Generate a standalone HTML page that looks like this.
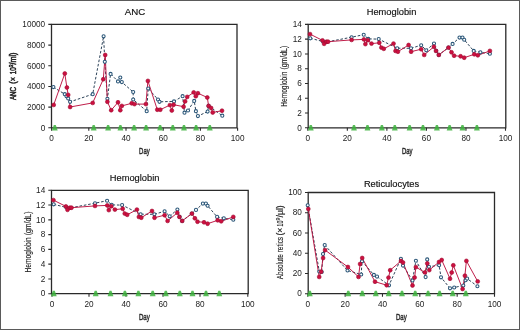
<!DOCTYPE html>
<html><head><meta charset="utf-8"><style>
html,body{margin:0;padding:0;background:#fff;}
body{width:520px;height:330px;overflow:hidden;}
svg{display:block;will-change:transform;filter:blur(0.35px);}
.tk{font-family:"Liberation Sans",sans-serif;font-size:8.6px;fill:#222;}
.tt{font-family:"Liberation Sans",sans-serif;font-size:9.3px;fill:#111;stroke:#111;stroke-width:0.15px;}
.at{font-family:"Liberation Sans",sans-serif;font-weight:normal;fill:#222;stroke:#222;stroke-width:0.22px;}
</style></head><body>
<svg width="520" height="330" viewBox="0 0 520 330">
<rect x="0" y="0" width="520" height="330" fill="#fff"/>
<path d="M51.5 24.4H237V127.8H51.5Z" fill="none" stroke="#2a2a2a" stroke-width="1.3"/>
<path d="M48.3 127.8H51.5M48.3 107.12H51.5M48.3 86.44H51.5M48.3 65.76H51.5M48.3 45.08H51.5M48.3 24.4H51.5M51.6 127.8V130.8M88.8 127.8V130.8M126 127.8V130.8M163.2 127.8V130.8M200.4 127.8V130.8M237.6 127.8V130.8" stroke="#2a2a2a" stroke-width="1.1" fill="none"/>
<text x="45.2" y="130.55" class="tk" text-anchor="end" textLength="4.57" lengthAdjust="spacingAndGlyphs">0</text>
<text x="45.2" y="109.87" class="tk" text-anchor="end" textLength="18.27" lengthAdjust="spacingAndGlyphs">2000</text>
<text x="45.2" y="89.19" class="tk" text-anchor="end" textLength="18.27" lengthAdjust="spacingAndGlyphs">4000</text>
<text x="45.2" y="68.51" class="tk" text-anchor="end" textLength="18.27" lengthAdjust="spacingAndGlyphs">6000</text>
<text x="45.2" y="47.83" class="tk" text-anchor="end" textLength="18.27" lengthAdjust="spacingAndGlyphs">8000</text>
<text x="45.2" y="27.15" class="tk" text-anchor="end" textLength="22.83" lengthAdjust="spacingAndGlyphs">10000</text>
<text x="51.6" y="141.2" class="tk" text-anchor="middle" textLength="4.57" lengthAdjust="spacingAndGlyphs">0</text>
<text x="88.8" y="141.2" class="tk" text-anchor="middle" textLength="9.13" lengthAdjust="spacingAndGlyphs">20</text>
<text x="126" y="141.2" class="tk" text-anchor="middle" textLength="9.13" lengthAdjust="spacingAndGlyphs">40</text>
<text x="163.2" y="141.2" class="tk" text-anchor="middle" textLength="9.13" lengthAdjust="spacingAndGlyphs">60</text>
<text x="200.4" y="141.2" class="tk" text-anchor="middle" textLength="9.13" lengthAdjust="spacingAndGlyphs">80</text>
<text x="237.6" y="141.2" class="tk" text-anchor="middle" textLength="13.7" lengthAdjust="spacingAndGlyphs">100</text>
<path d="M51.9 130.4L53.8 124.9L55.8 124.9L57.7 130.4Z" fill="#3db33d" fill-opacity="0.85"/>
<path d="M90.8 130.4L92.7 124.9L94.7 124.9L96.6 130.4Z" fill="#3db33d" fill-opacity="0.85"/>
<path d="M105.2 130.4L107.1 124.9L109.1 124.9L111 130.4Z" fill="#3db33d" fill-opacity="0.85"/>
<path d="M117.5 130.4L119.4 124.9L121.4 124.9L123.3 130.4Z" fill="#3db33d" fill-opacity="0.85"/>
<path d="M131.2 130.4L133.1 124.9L135.1 124.9L137 130.4Z" fill="#3db33d" fill-opacity="0.85"/>
<path d="M143.2 130.4L145.1 124.9L147.1 124.9L149 130.4Z" fill="#3db33d" fill-opacity="0.85"/>
<path d="M157.2 130.4L159.1 124.9L161.1 124.9L163 130.4Z" fill="#3db33d" fill-opacity="0.85"/>
<path d="M169.9 130.4L171.8 124.9L173.8 124.9L175.7 130.4Z" fill="#3db33d" fill-opacity="0.85"/>
<path d="M181.1 130.4L183 124.9L185 124.9L186.9 130.4Z" fill="#3db33d" fill-opacity="0.85"/>
<path d="M193.2 130.4L195.1 124.9L197.1 124.9L199 130.4Z" fill="#3db33d" fill-opacity="0.85"/>
<path d="M206.9 130.4L208.8 124.9L210.8 124.9L212.7 130.4Z" fill="#3db33d" fill-opacity="0.85"/>
<polyline points="53.4,87.1 64.8,94.2 66.5,96.3 68.2,98.5 70.1,101.8 92.7,94.2 103.6,36.3 104.8,61.8 107.4,98.8 110.6,73.9 118,81.4 120.3,77.6 121.8,82.1 133.2,92 133.2,99.5 146.7,111.2 148.2,88.5 158,99.5 159.5,101.8 174,101.4 182.6,96.2 184.5,112.7 188,110.5 194.2,100.9 195.9,111.2 197.9,116.1 207.6,111.6 208.6,105.9 222.3,115.7" fill="none" stroke="#2c4258" stroke-width="1" stroke-dasharray="2.6 1.8"/>
<polyline points="53.7,104.9 64.8,73.5 66.9,87.5 68.2,94.9 70.1,107 92.7,102.9 103.3,79.2 105.2,55 107.4,101.8 111.2,110.2 118,102.3 120.3,110.2 121.8,105.9 131.7,103.3 134.5,104.1 145.9,104.1 147.9,80.9 157.3,109.7 160.3,109.7 169.9,105.1 171.8,110.5 173.6,104.7 183.6,106.7 185.1,101.4 187.2,96.9 193.7,92.4 195.8,96.2 197.9,93.2 207.3,97.5 208.6,105.9 211.1,108 212.7,112.5 222,110.7" fill="none" stroke="#bc1240" stroke-width="0.95"/>
<circle cx="53.4" cy="87.1" r="1.55" fill="#fff" stroke="#2a5678" stroke-width="1.05"/>
<circle cx="64.8" cy="94.2" r="1.55" fill="#fff" stroke="#2a5678" stroke-width="1.05"/>
<circle cx="66.5" cy="96.3" r="1.55" fill="#fff" stroke="#2a5678" stroke-width="1.05"/>
<circle cx="68.2" cy="98.5" r="1.55" fill="#fff" stroke="#2a5678" stroke-width="1.05"/>
<circle cx="70.1" cy="101.8" r="1.55" fill="#fff" stroke="#2a5678" stroke-width="1.05"/>
<circle cx="92.7" cy="94.2" r="1.55" fill="#fff" stroke="#2a5678" stroke-width="1.05"/>
<circle cx="103.6" cy="36.3" r="1.55" fill="#fff" stroke="#2a5678" stroke-width="1.05"/>
<circle cx="104.8" cy="61.8" r="1.55" fill="#fff" stroke="#2a5678" stroke-width="1.05"/>
<circle cx="107.4" cy="98.8" r="1.55" fill="#fff" stroke="#2a5678" stroke-width="1.05"/>
<circle cx="110.6" cy="73.9" r="1.55" fill="#fff" stroke="#2a5678" stroke-width="1.05"/>
<circle cx="118" cy="81.4" r="1.55" fill="#fff" stroke="#2a5678" stroke-width="1.05"/>
<circle cx="120.3" cy="77.6" r="1.55" fill="#fff" stroke="#2a5678" stroke-width="1.05"/>
<circle cx="121.8" cy="82.1" r="1.55" fill="#fff" stroke="#2a5678" stroke-width="1.05"/>
<circle cx="133.2" cy="92" r="1.55" fill="#fff" stroke="#2a5678" stroke-width="1.05"/>
<circle cx="133.2" cy="99.5" r="1.55" fill="#fff" stroke="#2a5678" stroke-width="1.05"/>
<circle cx="146.7" cy="111.2" r="1.55" fill="#fff" stroke="#2a5678" stroke-width="1.05"/>
<circle cx="148.2" cy="88.5" r="1.55" fill="#fff" stroke="#2a5678" stroke-width="1.05"/>
<circle cx="158" cy="99.5" r="1.55" fill="#fff" stroke="#2a5678" stroke-width="1.05"/>
<circle cx="159.5" cy="101.8" r="1.55" fill="#fff" stroke="#2a5678" stroke-width="1.05"/>
<circle cx="174" cy="101.4" r="1.55" fill="#fff" stroke="#2a5678" stroke-width="1.05"/>
<circle cx="182.6" cy="96.2" r="1.55" fill="#fff" stroke="#2a5678" stroke-width="1.05"/>
<circle cx="184.5" cy="112.7" r="1.55" fill="#fff" stroke="#2a5678" stroke-width="1.05"/>
<circle cx="188" cy="110.5" r="1.55" fill="#fff" stroke="#2a5678" stroke-width="1.05"/>
<circle cx="194.2" cy="100.9" r="1.55" fill="#fff" stroke="#2a5678" stroke-width="1.05"/>
<circle cx="195.9" cy="111.2" r="1.55" fill="#fff" stroke="#2a5678" stroke-width="1.05"/>
<circle cx="197.9" cy="116.1" r="1.55" fill="#fff" stroke="#2a5678" stroke-width="1.05"/>
<circle cx="207.6" cy="111.6" r="1.55" fill="#fff" stroke="#2a5678" stroke-width="1.05"/>
<circle cx="208.6" cy="105.9" r="1.55" fill="#fff" stroke="#2a5678" stroke-width="1.05"/>
<circle cx="222.3" cy="115.7" r="1.55" fill="#fff" stroke="#2a5678" stroke-width="1.05"/>
<circle cx="53.7" cy="104.9" r="1.95" fill="#cc1040" stroke="#a00c30" stroke-width="0.6"/>
<circle cx="64.8" cy="73.5" r="1.95" fill="#cc1040" stroke="#a00c30" stroke-width="0.6"/>
<circle cx="66.9" cy="87.5" r="1.95" fill="#cc1040" stroke="#a00c30" stroke-width="0.6"/>
<circle cx="68.2" cy="94.9" r="1.95" fill="#cc1040" stroke="#a00c30" stroke-width="0.6"/>
<circle cx="70.1" cy="107" r="1.95" fill="#cc1040" stroke="#a00c30" stroke-width="0.6"/>
<circle cx="92.7" cy="102.9" r="1.95" fill="#cc1040" stroke="#a00c30" stroke-width="0.6"/>
<circle cx="103.3" cy="79.2" r="1.95" fill="#cc1040" stroke="#a00c30" stroke-width="0.6"/>
<circle cx="105.2" cy="55" r="1.95" fill="#cc1040" stroke="#a00c30" stroke-width="0.6"/>
<circle cx="107.4" cy="101.8" r="1.95" fill="#cc1040" stroke="#a00c30" stroke-width="0.6"/>
<circle cx="111.2" cy="110.2" r="1.95" fill="#cc1040" stroke="#a00c30" stroke-width="0.6"/>
<circle cx="118" cy="102.3" r="1.95" fill="#cc1040" stroke="#a00c30" stroke-width="0.6"/>
<circle cx="120.3" cy="110.2" r="1.95" fill="#cc1040" stroke="#a00c30" stroke-width="0.6"/>
<circle cx="121.8" cy="105.9" r="1.95" fill="#cc1040" stroke="#a00c30" stroke-width="0.6"/>
<circle cx="131.7" cy="103.3" r="1.95" fill="#cc1040" stroke="#a00c30" stroke-width="0.6"/>
<circle cx="134.5" cy="104.1" r="1.95" fill="#cc1040" stroke="#a00c30" stroke-width="0.6"/>
<circle cx="145.9" cy="104.1" r="1.95" fill="#cc1040" stroke="#a00c30" stroke-width="0.6"/>
<circle cx="147.9" cy="80.9" r="1.95" fill="#cc1040" stroke="#a00c30" stroke-width="0.6"/>
<circle cx="157.3" cy="109.7" r="1.95" fill="#cc1040" stroke="#a00c30" stroke-width="0.6"/>
<circle cx="160.3" cy="109.7" r="1.95" fill="#cc1040" stroke="#a00c30" stroke-width="0.6"/>
<circle cx="169.9" cy="105.1" r="1.95" fill="#cc1040" stroke="#a00c30" stroke-width="0.6"/>
<circle cx="171.8" cy="110.5" r="1.95" fill="#cc1040" stroke="#a00c30" stroke-width="0.6"/>
<circle cx="173.6" cy="104.7" r="1.95" fill="#cc1040" stroke="#a00c30" stroke-width="0.6"/>
<circle cx="183.6" cy="106.7" r="1.95" fill="#cc1040" stroke="#a00c30" stroke-width="0.6"/>
<circle cx="185.1" cy="101.4" r="1.95" fill="#cc1040" stroke="#a00c30" stroke-width="0.6"/>
<circle cx="187.2" cy="96.9" r="1.95" fill="#cc1040" stroke="#a00c30" stroke-width="0.6"/>
<circle cx="193.7" cy="92.4" r="1.95" fill="#cc1040" stroke="#a00c30" stroke-width="0.6"/>
<circle cx="195.8" cy="96.2" r="1.95" fill="#cc1040" stroke="#a00c30" stroke-width="0.6"/>
<circle cx="197.9" cy="93.2" r="1.95" fill="#cc1040" stroke="#a00c30" stroke-width="0.6"/>
<circle cx="207.3" cy="97.5" r="1.95" fill="#cc1040" stroke="#a00c30" stroke-width="0.6"/>
<circle cx="208.6" cy="105.9" r="1.95" fill="#cc1040" stroke="#a00c30" stroke-width="0.6"/>
<circle cx="211.1" cy="108" r="1.95" fill="#cc1040" stroke="#a00c30" stroke-width="0.6"/>
<circle cx="212.7" cy="112.5" r="1.95" fill="#cc1040" stroke="#a00c30" stroke-width="0.6"/>
<circle cx="222" cy="110.7" r="1.95" fill="#cc1040" stroke="#a00c30" stroke-width="0.6"/>
<text x="124.8" y="14.7" class="tt" style="font-size:9.7px">ANC</text>
<text transform="translate(16.3,100.1) rotate(-90)" x="0" y="0" class="at" style="font-size:8.4px;stroke-width:0.5px" textLength="13.2" lengthAdjust="spacingAndGlyphs">ANC</text>
<text transform="translate(16.3,83.8) rotate(-90)" x="0" y="0" class="at" style="font-size:8.4px;stroke-width:0.5px" textLength="6.8" lengthAdjust="spacingAndGlyphs">(×</text>
<text transform="translate(16.3,74.2) rotate(-90)" x="0" y="0" class="at" style="font-size:8.4px;stroke-width:0.5px" textLength="7.1" lengthAdjust="spacingAndGlyphs">10</text>
<text transform="translate(12.7,67.2) rotate(-90)" x="0" y="0" class="at" style="font-size:5.6px;stroke-width:0.5px" textLength="2.8" lengthAdjust="spacingAndGlyphs">3</text>
<text transform="translate(16.3,64.6) rotate(-90)" x="0" y="0" class="at" style="font-size:8.4px;stroke-width:0.5px" textLength="12" lengthAdjust="spacingAndGlyphs">/ml)</text>
<text x="139.1" y="154.4" class="at" style="font-size:9.8px;stroke-width:0.4px" textLength="10.6" lengthAdjust="spacingAndGlyphs">Day</text>
<path d="M308.2 24.4H505.8V127.8H308.2Z" fill="none" stroke="#2a2a2a" stroke-width="1.3"/>
<path d="M305 127.8H308.2M305 113.03H308.2M305 98.26H308.2M305 83.49H308.2M305 68.71H308.2M305 53.94H308.2M305 39.17H308.2M305 24.4H308.2M307.8 127.8V130.8M347.34 127.8V130.8M386.88 127.8V130.8M426.42 127.8V130.8M465.96 127.8V130.8M505.5 127.8V130.8" stroke="#2a2a2a" stroke-width="1.1" fill="none"/>
<text x="301.9" y="130.55" class="tk" text-anchor="end" textLength="4.57" lengthAdjust="spacingAndGlyphs">0</text>
<text x="301.9" y="115.78" class="tk" text-anchor="end" textLength="4.57" lengthAdjust="spacingAndGlyphs">2</text>
<text x="301.9" y="101.01" class="tk" text-anchor="end" textLength="4.57" lengthAdjust="spacingAndGlyphs">4</text>
<text x="301.9" y="86.24" class="tk" text-anchor="end" textLength="4.57" lengthAdjust="spacingAndGlyphs">6</text>
<text x="301.9" y="71.46" class="tk" text-anchor="end" textLength="4.57" lengthAdjust="spacingAndGlyphs">8</text>
<text x="301.9" y="56.69" class="tk" text-anchor="end" textLength="9.13" lengthAdjust="spacingAndGlyphs">10</text>
<text x="301.9" y="41.92" class="tk" text-anchor="end" textLength="9.13" lengthAdjust="spacingAndGlyphs">12</text>
<text x="301.9" y="27.15" class="tk" text-anchor="end" textLength="9.13" lengthAdjust="spacingAndGlyphs">14</text>
<text x="307.8" y="141.2" class="tk" text-anchor="middle" textLength="4.57" lengthAdjust="spacingAndGlyphs">0</text>
<text x="347.34" y="141.2" class="tk" text-anchor="middle" textLength="9.13" lengthAdjust="spacingAndGlyphs">20</text>
<text x="386.88" y="141.2" class="tk" text-anchor="middle" textLength="9.13" lengthAdjust="spacingAndGlyphs">40</text>
<text x="426.42" y="141.2" class="tk" text-anchor="middle" textLength="9.13" lengthAdjust="spacingAndGlyphs">60</text>
<text x="465.96" y="141.2" class="tk" text-anchor="middle" textLength="9.13" lengthAdjust="spacingAndGlyphs">80</text>
<text x="505.5" y="141.2" class="tk" text-anchor="middle" textLength="13.7" lengthAdjust="spacingAndGlyphs">100</text>
<path d="M307.9 130.4L309.8 124.9L311.8 124.9L313.7 130.4Z" fill="#3db33d" fill-opacity="0.85"/>
<path d="M351.1 130.4L353 124.9L355 124.9L356.9 130.4Z" fill="#3db33d" fill-opacity="0.85"/>
<path d="M364.6 130.4L366.5 124.9L368.5 124.9L370.4 130.4Z" fill="#3db33d" fill-opacity="0.85"/>
<path d="M379 130.4L380.9 124.9L382.9 124.9L384.8 130.4Z" fill="#3db33d" fill-opacity="0.85"/>
<path d="M391.9 130.4L393.8 124.9L395.8 124.9L397.7 130.4Z" fill="#3db33d" fill-opacity="0.85"/>
<path d="M406.7 130.4L408.6 124.9L410.6 124.9L412.5 130.4Z" fill="#3db33d" fill-opacity="0.85"/>
<path d="M420.1 130.4L422 124.9L424 124.9L425.9 130.4Z" fill="#3db33d" fill-opacity="0.85"/>
<path d="M434 130.4L435.9 124.9L437.9 124.9L439.8 130.4Z" fill="#3db33d" fill-opacity="0.85"/>
<path d="M446.7 130.4L448.6 124.9L450.6 124.9L452.5 130.4Z" fill="#3db33d" fill-opacity="0.85"/>
<path d="M459.6 130.4L461.5 124.9L463.5 124.9L465.4 130.4Z" fill="#3db33d" fill-opacity="0.85"/>
<path d="M474 130.4L475.9 124.9L477.9 124.9L479.8 130.4Z" fill="#3db33d" fill-opacity="0.85"/>
<polyline points="310.3,38.3 323,41.5 326.5,42 351.6,37.2 363.7,34.7 368.3,38.9 378.7,39.1 397.2,48.2 411,48.3 421.2,45.2 426.3,50.3 434,43.5 436.2,50.8 438.8,54.9 448.5,47.5 452.6,43.9 459.5,37.6 462.5,37.6 464.2,39.7 473.7,50.9 480.4,52.3 489.9,53.7" fill="none" stroke="#2c4258" stroke-width="1" stroke-dasharray="2.6 1.8"/>
<polyline points="310,34.1 322.5,40.4 324.1,43.8 326.5,41.7 328.1,41.7 351.6,39.9 363.9,39.4 365.4,44.1 367.8,40.2 371.5,43.6 379.3,42.8 381.4,47.6 383.8,48.8 393.5,43.6 395.5,50.9 397.9,51.7 408.6,45 411.1,51.7 421.2,49.2 424.2,54.9 433.9,46.8 436,50.9 438.8,54.9 448.5,47.6 451.5,52.3 454.1,55.7 460.6,56.3 464.2,57.7 474.3,54.3 477.8,55.3 489.9,50.9" fill="none" stroke="#bc1240" stroke-width="0.95"/>
<circle cx="310.3" cy="38.3" r="1.55" fill="#fff" stroke="#2a5678" stroke-width="1.05"/>
<circle cx="323" cy="41.5" r="1.55" fill="#fff" stroke="#2a5678" stroke-width="1.05"/>
<circle cx="326.5" cy="42" r="1.55" fill="#fff" stroke="#2a5678" stroke-width="1.05"/>
<circle cx="351.6" cy="37.2" r="1.55" fill="#fff" stroke="#2a5678" stroke-width="1.05"/>
<circle cx="363.7" cy="34.7" r="1.55" fill="#fff" stroke="#2a5678" stroke-width="1.05"/>
<circle cx="368.3" cy="38.9" r="1.55" fill="#fff" stroke="#2a5678" stroke-width="1.05"/>
<circle cx="378.7" cy="39.1" r="1.55" fill="#fff" stroke="#2a5678" stroke-width="1.05"/>
<circle cx="397.2" cy="48.2" r="1.55" fill="#fff" stroke="#2a5678" stroke-width="1.05"/>
<circle cx="411" cy="48.3" r="1.55" fill="#fff" stroke="#2a5678" stroke-width="1.05"/>
<circle cx="421.2" cy="45.2" r="1.55" fill="#fff" stroke="#2a5678" stroke-width="1.05"/>
<circle cx="426.3" cy="50.3" r="1.55" fill="#fff" stroke="#2a5678" stroke-width="1.05"/>
<circle cx="434" cy="43.5" r="1.55" fill="#fff" stroke="#2a5678" stroke-width="1.05"/>
<circle cx="436.2" cy="50.8" r="1.55" fill="#fff" stroke="#2a5678" stroke-width="1.05"/>
<circle cx="438.8" cy="54.9" r="1.55" fill="#fff" stroke="#2a5678" stroke-width="1.05"/>
<circle cx="448.5" cy="47.5" r="1.55" fill="#fff" stroke="#2a5678" stroke-width="1.05"/>
<circle cx="452.6" cy="43.9" r="1.55" fill="#fff" stroke="#2a5678" stroke-width="1.05"/>
<circle cx="459.5" cy="37.6" r="1.55" fill="#fff" stroke="#2a5678" stroke-width="1.05"/>
<circle cx="462.5" cy="37.6" r="1.55" fill="#fff" stroke="#2a5678" stroke-width="1.05"/>
<circle cx="464.2" cy="39.7" r="1.55" fill="#fff" stroke="#2a5678" stroke-width="1.05"/>
<circle cx="473.7" cy="50.9" r="1.55" fill="#fff" stroke="#2a5678" stroke-width="1.05"/>
<circle cx="480.4" cy="52.3" r="1.55" fill="#fff" stroke="#2a5678" stroke-width="1.05"/>
<circle cx="489.9" cy="53.7" r="1.55" fill="#fff" stroke="#2a5678" stroke-width="1.05"/>
<circle cx="310" cy="34.1" r="1.95" fill="#cc1040" stroke="#a00c30" stroke-width="0.6"/>
<circle cx="322.5" cy="40.4" r="1.95" fill="#cc1040" stroke="#a00c30" stroke-width="0.6"/>
<circle cx="324.1" cy="43.8" r="1.95" fill="#cc1040" stroke="#a00c30" stroke-width="0.6"/>
<circle cx="326.5" cy="41.7" r="1.95" fill="#cc1040" stroke="#a00c30" stroke-width="0.6"/>
<circle cx="328.1" cy="41.7" r="1.95" fill="#cc1040" stroke="#a00c30" stroke-width="0.6"/>
<circle cx="351.6" cy="39.9" r="1.95" fill="#cc1040" stroke="#a00c30" stroke-width="0.6"/>
<circle cx="363.9" cy="39.4" r="1.95" fill="#cc1040" stroke="#a00c30" stroke-width="0.6"/>
<circle cx="365.4" cy="44.1" r="1.95" fill="#cc1040" stroke="#a00c30" stroke-width="0.6"/>
<circle cx="367.8" cy="40.2" r="1.95" fill="#cc1040" stroke="#a00c30" stroke-width="0.6"/>
<circle cx="371.5" cy="43.6" r="1.95" fill="#cc1040" stroke="#a00c30" stroke-width="0.6"/>
<circle cx="379.3" cy="42.8" r="1.95" fill="#cc1040" stroke="#a00c30" stroke-width="0.6"/>
<circle cx="381.4" cy="47.6" r="1.95" fill="#cc1040" stroke="#a00c30" stroke-width="0.6"/>
<circle cx="383.8" cy="48.8" r="1.95" fill="#cc1040" stroke="#a00c30" stroke-width="0.6"/>
<circle cx="393.5" cy="43.6" r="1.95" fill="#cc1040" stroke="#a00c30" stroke-width="0.6"/>
<circle cx="395.5" cy="50.9" r="1.95" fill="#cc1040" stroke="#a00c30" stroke-width="0.6"/>
<circle cx="397.9" cy="51.7" r="1.95" fill="#cc1040" stroke="#a00c30" stroke-width="0.6"/>
<circle cx="408.6" cy="45" r="1.95" fill="#cc1040" stroke="#a00c30" stroke-width="0.6"/>
<circle cx="411.1" cy="51.7" r="1.95" fill="#cc1040" stroke="#a00c30" stroke-width="0.6"/>
<circle cx="421.2" cy="49.2" r="1.95" fill="#cc1040" stroke="#a00c30" stroke-width="0.6"/>
<circle cx="424.2" cy="54.9" r="1.95" fill="#cc1040" stroke="#a00c30" stroke-width="0.6"/>
<circle cx="433.9" cy="46.8" r="1.95" fill="#cc1040" stroke="#a00c30" stroke-width="0.6"/>
<circle cx="436" cy="50.9" r="1.95" fill="#cc1040" stroke="#a00c30" stroke-width="0.6"/>
<circle cx="438.8" cy="54.9" r="1.95" fill="#cc1040" stroke="#a00c30" stroke-width="0.6"/>
<circle cx="448.5" cy="47.6" r="1.95" fill="#cc1040" stroke="#a00c30" stroke-width="0.6"/>
<circle cx="451.5" cy="52.3" r="1.95" fill="#cc1040" stroke="#a00c30" stroke-width="0.6"/>
<circle cx="454.1" cy="55.7" r="1.95" fill="#cc1040" stroke="#a00c30" stroke-width="0.6"/>
<circle cx="460.6" cy="56.3" r="1.95" fill="#cc1040" stroke="#a00c30" stroke-width="0.6"/>
<circle cx="464.2" cy="57.7" r="1.95" fill="#cc1040" stroke="#a00c30" stroke-width="0.6"/>
<circle cx="474.3" cy="54.3" r="1.95" fill="#cc1040" stroke="#a00c30" stroke-width="0.6"/>
<circle cx="477.8" cy="55.3" r="1.95" fill="#cc1040" stroke="#a00c30" stroke-width="0.6"/>
<circle cx="489.9" cy="50.9" r="1.95" fill="#cc1040" stroke="#a00c30" stroke-width="0.6"/>
<text x="366.7" y="14.7" class="tt">Hemoglobin</text>
<text transform="translate(286.8,106.7) rotate(-90)" x="0" y="0" class="at" style="font-size:8.9px;stroke-width:0.15px" textLength="35.1" lengthAdjust="spacingAndGlyphs">Hemoglobin</text>
<text transform="translate(286.8,69.6) rotate(-90)" x="0" y="0" class="at" style="font-size:8.9px;stroke-width:0.15px" textLength="23.8" lengthAdjust="spacingAndGlyphs">(gm/dL)</text>
<text x="402" y="153.8" class="at" style="font-size:9.8px;stroke-width:0.4px" textLength="10.6" lengthAdjust="spacingAndGlyphs">Day</text>
<path d="M51.5 190.3H248.2V293.7H51.5Z" fill="none" stroke="#2a2a2a" stroke-width="1.3"/>
<path d="M48.3 293.7H51.5M48.3 278.93H51.5M48.3 264.16H51.5M48.3 249.39H51.5M48.3 234.61H51.5M48.3 219.84H51.5M48.3 205.07H51.5M48.3 190.3H51.5M52 293.7V296.7M89 293.7V296.7M126 293.7V296.7M163 293.7V296.7M200 293.7V296.7M247.8 293.7V296.7" stroke="#2a2a2a" stroke-width="1.1" fill="none"/>
<text x="45.2" y="296.45" class="tk" text-anchor="end" textLength="4.57" lengthAdjust="spacingAndGlyphs">0</text>
<text x="45.2" y="281.68" class="tk" text-anchor="end" textLength="4.57" lengthAdjust="spacingAndGlyphs">2</text>
<text x="45.2" y="266.91" class="tk" text-anchor="end" textLength="4.57" lengthAdjust="spacingAndGlyphs">4</text>
<text x="45.2" y="252.14" class="tk" text-anchor="end" textLength="4.57" lengthAdjust="spacingAndGlyphs">6</text>
<text x="45.2" y="237.36" class="tk" text-anchor="end" textLength="4.57" lengthAdjust="spacingAndGlyphs">8</text>
<text x="45.2" y="222.59" class="tk" text-anchor="end" textLength="9.13" lengthAdjust="spacingAndGlyphs">10</text>
<text x="45.2" y="207.82" class="tk" text-anchor="end" textLength="9.13" lengthAdjust="spacingAndGlyphs">12</text>
<text x="45.2" y="193.05" class="tk" text-anchor="end" textLength="9.13" lengthAdjust="spacingAndGlyphs">14</text>
<text x="52" y="307.3" class="tk" text-anchor="middle" textLength="4.57" lengthAdjust="spacingAndGlyphs">0</text>
<text x="89" y="307.3" class="tk" text-anchor="middle" textLength="9.13" lengthAdjust="spacingAndGlyphs">20</text>
<text x="126" y="307.3" class="tk" text-anchor="middle" textLength="9.13" lengthAdjust="spacingAndGlyphs">40</text>
<text x="163" y="307.3" class="tk" text-anchor="middle" textLength="9.13" lengthAdjust="spacingAndGlyphs">60</text>
<text x="200" y="307.3" class="tk" text-anchor="middle" textLength="9.13" lengthAdjust="spacingAndGlyphs">80</text>
<text x="247.8" y="307.3" class="tk" text-anchor="middle" textLength="13.7" lengthAdjust="spacingAndGlyphs">100</text>
<path d="M50.9 296.3L52.8 290.8L54.8 290.8L56.7 296.3Z" fill="#3db33d" fill-opacity="0.85"/>
<path d="M92.8 296.3L94.7 290.8L96.7 290.8L98.6 296.3Z" fill="#3db33d" fill-opacity="0.85"/>
<path d="M107.6 296.3L109.5 290.8L111.5 290.8L113.4 296.3Z" fill="#3db33d" fill-opacity="0.85"/>
<path d="M122 296.3L123.9 290.8L125.9 290.8L127.8 296.3Z" fill="#3db33d" fill-opacity="0.85"/>
<path d="M135.5 296.3L137.4 290.8L139.4 290.8L141.3 296.3Z" fill="#3db33d" fill-opacity="0.85"/>
<path d="M149.8 296.3L151.7 290.8L153.7 290.8L155.6 296.3Z" fill="#3db33d" fill-opacity="0.85"/>
<path d="M162.9 296.3L164.8 290.8L166.8 290.8L168.7 296.3Z" fill="#3db33d" fill-opacity="0.85"/>
<path d="M176.9 296.3L178.8 290.8L180.8 290.8L182.7 296.3Z" fill="#3db33d" fill-opacity="0.85"/>
<path d="M189.6 296.3L191.5 290.8L193.5 290.8L195.4 296.3Z" fill="#3db33d" fill-opacity="0.85"/>
<path d="M203.1 296.3L205 290.8L207 290.8L208.9 296.3Z" fill="#3db33d" fill-opacity="0.85"/>
<path d="M216.4 296.3L218.3 290.8L220.3 290.8L222.2 296.3Z" fill="#3db33d" fill-opacity="0.85"/>
<polyline points="53.7,204.3 66.4,207.5 69.9,208 95,203.2 107.1,200.7 111.7,204.9 122.1,205.1 140.6,214.2 154.4,214.3 164.6,211.2 169.7,216.3 177.4,209.5 179.6,216.8 182.2,220.9 191.9,213.5 196,209.9 202.9,203.6 205.9,203.6 207.6,205.7 217.1,216.9 223.8,218.3 233.3,219.7" fill="none" stroke="#2c4258" stroke-width="1" stroke-dasharray="2.6 1.8"/>
<polyline points="53.4,200.1 65.9,206.4 67.5,209.8 69.9,207.7 71.5,207.7 95,205.9 107.3,205.4 108.8,210.1 111.2,206.2 114.9,209.6 122.7,208.8 124.8,213.6 127.2,214.8 136.9,209.6 138.9,216.9 141.3,217.7 152,211 154.5,217.7 164.6,215.2 167.6,220.9 177.3,212.8 179.4,216.9 182.2,220.9 191.9,213.6 194.9,218.3 197.5,221.7 204,222.3 207.6,223.7 217.7,220.3 221.2,221.3 233.3,216.9" fill="none" stroke="#bc1240" stroke-width="0.95"/>
<circle cx="53.7" cy="204.3" r="1.55" fill="#fff" stroke="#2a5678" stroke-width="1.05"/>
<circle cx="66.4" cy="207.5" r="1.55" fill="#fff" stroke="#2a5678" stroke-width="1.05"/>
<circle cx="69.9" cy="208" r="1.55" fill="#fff" stroke="#2a5678" stroke-width="1.05"/>
<circle cx="95" cy="203.2" r="1.55" fill="#fff" stroke="#2a5678" stroke-width="1.05"/>
<circle cx="107.1" cy="200.7" r="1.55" fill="#fff" stroke="#2a5678" stroke-width="1.05"/>
<circle cx="111.7" cy="204.9" r="1.55" fill="#fff" stroke="#2a5678" stroke-width="1.05"/>
<circle cx="122.1" cy="205.1" r="1.55" fill="#fff" stroke="#2a5678" stroke-width="1.05"/>
<circle cx="140.6" cy="214.2" r="1.55" fill="#fff" stroke="#2a5678" stroke-width="1.05"/>
<circle cx="154.4" cy="214.3" r="1.55" fill="#fff" stroke="#2a5678" stroke-width="1.05"/>
<circle cx="164.6" cy="211.2" r="1.55" fill="#fff" stroke="#2a5678" stroke-width="1.05"/>
<circle cx="169.7" cy="216.3" r="1.55" fill="#fff" stroke="#2a5678" stroke-width="1.05"/>
<circle cx="177.4" cy="209.5" r="1.55" fill="#fff" stroke="#2a5678" stroke-width="1.05"/>
<circle cx="179.6" cy="216.8" r="1.55" fill="#fff" stroke="#2a5678" stroke-width="1.05"/>
<circle cx="182.2" cy="220.9" r="1.55" fill="#fff" stroke="#2a5678" stroke-width="1.05"/>
<circle cx="191.9" cy="213.5" r="1.55" fill="#fff" stroke="#2a5678" stroke-width="1.05"/>
<circle cx="196" cy="209.9" r="1.55" fill="#fff" stroke="#2a5678" stroke-width="1.05"/>
<circle cx="202.9" cy="203.6" r="1.55" fill="#fff" stroke="#2a5678" stroke-width="1.05"/>
<circle cx="205.9" cy="203.6" r="1.55" fill="#fff" stroke="#2a5678" stroke-width="1.05"/>
<circle cx="207.6" cy="205.7" r="1.55" fill="#fff" stroke="#2a5678" stroke-width="1.05"/>
<circle cx="217.1" cy="216.9" r="1.55" fill="#fff" stroke="#2a5678" stroke-width="1.05"/>
<circle cx="223.8" cy="218.3" r="1.55" fill="#fff" stroke="#2a5678" stroke-width="1.05"/>
<circle cx="233.3" cy="219.7" r="1.55" fill="#fff" stroke="#2a5678" stroke-width="1.05"/>
<circle cx="53.4" cy="200.1" r="1.95" fill="#cc1040" stroke="#a00c30" stroke-width="0.6"/>
<circle cx="65.9" cy="206.4" r="1.95" fill="#cc1040" stroke="#a00c30" stroke-width="0.6"/>
<circle cx="67.5" cy="209.8" r="1.95" fill="#cc1040" stroke="#a00c30" stroke-width="0.6"/>
<circle cx="69.9" cy="207.7" r="1.95" fill="#cc1040" stroke="#a00c30" stroke-width="0.6"/>
<circle cx="71.5" cy="207.7" r="1.95" fill="#cc1040" stroke="#a00c30" stroke-width="0.6"/>
<circle cx="95" cy="205.9" r="1.95" fill="#cc1040" stroke="#a00c30" stroke-width="0.6"/>
<circle cx="107.3" cy="205.4" r="1.95" fill="#cc1040" stroke="#a00c30" stroke-width="0.6"/>
<circle cx="108.8" cy="210.1" r="1.95" fill="#cc1040" stroke="#a00c30" stroke-width="0.6"/>
<circle cx="111.2" cy="206.2" r="1.95" fill="#cc1040" stroke="#a00c30" stroke-width="0.6"/>
<circle cx="114.9" cy="209.6" r="1.95" fill="#cc1040" stroke="#a00c30" stroke-width="0.6"/>
<circle cx="122.7" cy="208.8" r="1.95" fill="#cc1040" stroke="#a00c30" stroke-width="0.6"/>
<circle cx="124.8" cy="213.6" r="1.95" fill="#cc1040" stroke="#a00c30" stroke-width="0.6"/>
<circle cx="127.2" cy="214.8" r="1.95" fill="#cc1040" stroke="#a00c30" stroke-width="0.6"/>
<circle cx="136.9" cy="209.6" r="1.95" fill="#cc1040" stroke="#a00c30" stroke-width="0.6"/>
<circle cx="138.9" cy="216.9" r="1.95" fill="#cc1040" stroke="#a00c30" stroke-width="0.6"/>
<circle cx="141.3" cy="217.7" r="1.95" fill="#cc1040" stroke="#a00c30" stroke-width="0.6"/>
<circle cx="152" cy="211" r="1.95" fill="#cc1040" stroke="#a00c30" stroke-width="0.6"/>
<circle cx="154.5" cy="217.7" r="1.95" fill="#cc1040" stroke="#a00c30" stroke-width="0.6"/>
<circle cx="164.6" cy="215.2" r="1.95" fill="#cc1040" stroke="#a00c30" stroke-width="0.6"/>
<circle cx="167.6" cy="220.9" r="1.95" fill="#cc1040" stroke="#a00c30" stroke-width="0.6"/>
<circle cx="177.3" cy="212.8" r="1.95" fill="#cc1040" stroke="#a00c30" stroke-width="0.6"/>
<circle cx="179.4" cy="216.9" r="1.95" fill="#cc1040" stroke="#a00c30" stroke-width="0.6"/>
<circle cx="182.2" cy="220.9" r="1.95" fill="#cc1040" stroke="#a00c30" stroke-width="0.6"/>
<circle cx="191.9" cy="213.6" r="1.95" fill="#cc1040" stroke="#a00c30" stroke-width="0.6"/>
<circle cx="194.9" cy="218.3" r="1.95" fill="#cc1040" stroke="#a00c30" stroke-width="0.6"/>
<circle cx="197.5" cy="221.7" r="1.95" fill="#cc1040" stroke="#a00c30" stroke-width="0.6"/>
<circle cx="204" cy="222.3" r="1.95" fill="#cc1040" stroke="#a00c30" stroke-width="0.6"/>
<circle cx="207.6" cy="223.7" r="1.95" fill="#cc1040" stroke="#a00c30" stroke-width="0.6"/>
<circle cx="217.7" cy="220.3" r="1.95" fill="#cc1040" stroke="#a00c30" stroke-width="0.6"/>
<circle cx="221.2" cy="221.3" r="1.95" fill="#cc1040" stroke="#a00c30" stroke-width="0.6"/>
<circle cx="233.3" cy="216.9" r="1.95" fill="#cc1040" stroke="#a00c30" stroke-width="0.6"/>
<text x="109.8" y="180.7" class="tt">Hemoglobin</text>
<text transform="translate(30.6,272.4) rotate(-90)" x="0" y="0" class="at" style="font-size:8.9px;stroke-width:0.15px" textLength="35.1" lengthAdjust="spacingAndGlyphs">Hemoglobin</text>
<text transform="translate(30.6,235.3) rotate(-90)" x="0" y="0" class="at" style="font-size:8.9px;stroke-width:0.15px" textLength="23.8" lengthAdjust="spacingAndGlyphs">(gm/dL)</text>
<text x="138.9" y="319.8" class="at" style="font-size:9.8px;stroke-width:0.4px" textLength="10.9" lengthAdjust="spacingAndGlyphs">Day</text>
<path d="M308.2 192.5H494.5V293.7H308.2Z" fill="none" stroke="#2a2a2a" stroke-width="1.3"/>
<path d="M305 293.7H308.2M305 273.46H308.2M305 253.22H308.2M305 232.98H308.2M305 212.74H308.2M305 192.5H308.2M307.8 293.7V296.7M345.14 293.7V296.7M382.48 293.7V296.7M419.82 293.7V296.7M457.16 293.7V296.7M494.5 293.7V296.7" stroke="#2a2a2a" stroke-width="1.1" fill="none"/>
<text x="301.9" y="296.45" class="tk" text-anchor="end" textLength="4.57" lengthAdjust="spacingAndGlyphs">0</text>
<text x="301.9" y="276.21" class="tk" text-anchor="end" textLength="9.13" lengthAdjust="spacingAndGlyphs">20</text>
<text x="301.9" y="255.97" class="tk" text-anchor="end" textLength="9.13" lengthAdjust="spacingAndGlyphs">40</text>
<text x="301.9" y="235.73" class="tk" text-anchor="end" textLength="9.13" lengthAdjust="spacingAndGlyphs">60</text>
<text x="301.9" y="215.49" class="tk" text-anchor="end" textLength="9.13" lengthAdjust="spacingAndGlyphs">80</text>
<text x="301.9" y="195.25" class="tk" text-anchor="end" textLength="13.7" lengthAdjust="spacingAndGlyphs">100</text>
<text x="307.8" y="307.3" class="tk" text-anchor="middle" textLength="4.57" lengthAdjust="spacingAndGlyphs">0</text>
<text x="345.14" y="307.3" class="tk" text-anchor="middle" textLength="9.13" lengthAdjust="spacingAndGlyphs">20</text>
<text x="382.48" y="307.3" class="tk" text-anchor="middle" textLength="9.13" lengthAdjust="spacingAndGlyphs">40</text>
<text x="419.82" y="307.3" class="tk" text-anchor="middle" textLength="9.13" lengthAdjust="spacingAndGlyphs">60</text>
<text x="457.16" y="307.3" class="tk" text-anchor="middle" textLength="9.13" lengthAdjust="spacingAndGlyphs">80</text>
<text x="494.5" y="307.3" class="tk" text-anchor="middle" textLength="13.7" lengthAdjust="spacingAndGlyphs">100</text>
<path d="M306.9 296.3L308.8 290.8L310.8 290.8L312.7 296.3Z" fill="#3db33d" fill-opacity="0.85"/>
<path d="M345.4 296.3L347.3 290.8L349.3 290.8L351.2 296.3Z" fill="#3db33d" fill-opacity="0.85"/>
<path d="M359.4 296.3L361.3 290.8L363.3 290.8L365.2 296.3Z" fill="#3db33d" fill-opacity="0.85"/>
<path d="M372.9 296.3L374.8 290.8L376.8 290.8L378.7 296.3Z" fill="#3db33d" fill-opacity="0.85"/>
<path d="M385.8 296.3L387.7 290.8L389.7 290.8L391.6 296.3Z" fill="#3db33d" fill-opacity="0.85"/>
<path d="M399.1 296.3L401 290.8L403 290.8L404.9 296.3Z" fill="#3db33d" fill-opacity="0.85"/>
<path d="M412.3 296.3L414.2 290.8L416.2 290.8L418.1 296.3Z" fill="#3db33d" fill-opacity="0.85"/>
<path d="M425.2 296.3L427.1 290.8L429.1 290.8L431 296.3Z" fill="#3db33d" fill-opacity="0.85"/>
<path d="M436.7 296.3L438.6 290.8L440.6 290.8L442.5 296.3Z" fill="#3db33d" fill-opacity="0.85"/>
<path d="M449.8 296.3L451.7 290.8L453.7 290.8L455.6 296.3Z" fill="#3db33d" fill-opacity="0.85"/>
<path d="M462.9 296.3L464.8 290.8L466.8 290.8L468.7 296.3Z" fill="#3db33d" fill-opacity="0.85"/>
<polyline points="307.7,205.3 319.3,271.5 321.7,272 323,254 324.7,245 347.5,270.5 361.2,274.5 362,261.3 373.9,274.9 377,276.6 389,285.3 400.9,258.7 403,265.6 412.5,280.5 415.9,260.7 425.6,277.1 427.2,259.4 429,266.7 439.1,265.2 441,277.3 450,288.3 454.2,287.5 463.3,285.5 465.6,280.2 467.1,278.6 477.4,286.2" fill="none" stroke="#2c4258" stroke-width="1" stroke-dasharray="2.6 1.8"/>
<polyline points="308.3,208.9 319.2,276.9 321.1,271.7 323.1,258 325.1,250.1 347.9,267 358.5,276.9 360.1,264 362.2,258 375,281.7 386.7,285.2 388.5,277.6 390.2,270.2 401,261 403,262.5 412.5,285.5 414.6,277.5 415.9,267.1 424.9,272.4 427.3,263.4 429.3,270.1 439,262 441.7,260 450,278.7 451.7,272.5 453.3,265.3 462.6,289 464.9,275.7 466.4,260.9 477.7,281.4" fill="none" stroke="#bc1240" stroke-width="0.95"/>
<circle cx="307.7" cy="205.3" r="1.55" fill="#fff" stroke="#2a5678" stroke-width="1.05"/>
<circle cx="319.3" cy="271.5" r="1.55" fill="#fff" stroke="#2a5678" stroke-width="1.05"/>
<circle cx="321.7" cy="272" r="1.55" fill="#fff" stroke="#2a5678" stroke-width="1.05"/>
<circle cx="323" cy="254" r="1.55" fill="#fff" stroke="#2a5678" stroke-width="1.05"/>
<circle cx="324.7" cy="245" r="1.55" fill="#fff" stroke="#2a5678" stroke-width="1.05"/>
<circle cx="347.5" cy="270.5" r="1.55" fill="#fff" stroke="#2a5678" stroke-width="1.05"/>
<circle cx="361.2" cy="274.5" r="1.55" fill="#fff" stroke="#2a5678" stroke-width="1.05"/>
<circle cx="362" cy="261.3" r="1.55" fill="#fff" stroke="#2a5678" stroke-width="1.05"/>
<circle cx="373.9" cy="274.9" r="1.55" fill="#fff" stroke="#2a5678" stroke-width="1.05"/>
<circle cx="377" cy="276.6" r="1.55" fill="#fff" stroke="#2a5678" stroke-width="1.05"/>
<circle cx="389" cy="285.3" r="1.55" fill="#fff" stroke="#2a5678" stroke-width="1.05"/>
<circle cx="400.9" cy="258.7" r="1.55" fill="#fff" stroke="#2a5678" stroke-width="1.05"/>
<circle cx="403" cy="265.6" r="1.55" fill="#fff" stroke="#2a5678" stroke-width="1.05"/>
<circle cx="412.5" cy="280.5" r="1.55" fill="#fff" stroke="#2a5678" stroke-width="1.05"/>
<circle cx="415.9" cy="260.7" r="1.55" fill="#fff" stroke="#2a5678" stroke-width="1.05"/>
<circle cx="425.6" cy="277.1" r="1.55" fill="#fff" stroke="#2a5678" stroke-width="1.05"/>
<circle cx="427.2" cy="259.4" r="1.55" fill="#fff" stroke="#2a5678" stroke-width="1.05"/>
<circle cx="429" cy="266.7" r="1.55" fill="#fff" stroke="#2a5678" stroke-width="1.05"/>
<circle cx="439.1" cy="265.2" r="1.55" fill="#fff" stroke="#2a5678" stroke-width="1.05"/>
<circle cx="441" cy="277.3" r="1.55" fill="#fff" stroke="#2a5678" stroke-width="1.05"/>
<circle cx="450" cy="288.3" r="1.55" fill="#fff" stroke="#2a5678" stroke-width="1.05"/>
<circle cx="454.2" cy="287.5" r="1.55" fill="#fff" stroke="#2a5678" stroke-width="1.05"/>
<circle cx="463.3" cy="285.5" r="1.55" fill="#fff" stroke="#2a5678" stroke-width="1.05"/>
<circle cx="465.6" cy="280.2" r="1.55" fill="#fff" stroke="#2a5678" stroke-width="1.05"/>
<circle cx="467.1" cy="278.6" r="1.55" fill="#fff" stroke="#2a5678" stroke-width="1.05"/>
<circle cx="477.4" cy="286.2" r="1.55" fill="#fff" stroke="#2a5678" stroke-width="1.05"/>
<circle cx="308.3" cy="208.9" r="1.95" fill="#cc1040" stroke="#a00c30" stroke-width="0.6"/>
<circle cx="319.2" cy="276.9" r="1.95" fill="#cc1040" stroke="#a00c30" stroke-width="0.6"/>
<circle cx="321.1" cy="271.7" r="1.95" fill="#cc1040" stroke="#a00c30" stroke-width="0.6"/>
<circle cx="323.1" cy="258" r="1.95" fill="#cc1040" stroke="#a00c30" stroke-width="0.6"/>
<circle cx="325.1" cy="250.1" r="1.95" fill="#cc1040" stroke="#a00c30" stroke-width="0.6"/>
<circle cx="347.9" cy="267" r="1.95" fill="#cc1040" stroke="#a00c30" stroke-width="0.6"/>
<circle cx="358.5" cy="276.9" r="1.95" fill="#cc1040" stroke="#a00c30" stroke-width="0.6"/>
<circle cx="360.1" cy="264" r="1.95" fill="#cc1040" stroke="#a00c30" stroke-width="0.6"/>
<circle cx="362.2" cy="258" r="1.95" fill="#cc1040" stroke="#a00c30" stroke-width="0.6"/>
<circle cx="375" cy="281.7" r="1.95" fill="#cc1040" stroke="#a00c30" stroke-width="0.6"/>
<circle cx="386.7" cy="285.2" r="1.95" fill="#cc1040" stroke="#a00c30" stroke-width="0.6"/>
<circle cx="388.5" cy="277.6" r="1.95" fill="#cc1040" stroke="#a00c30" stroke-width="0.6"/>
<circle cx="390.2" cy="270.2" r="1.95" fill="#cc1040" stroke="#a00c30" stroke-width="0.6"/>
<circle cx="401" cy="261" r="1.95" fill="#cc1040" stroke="#a00c30" stroke-width="0.6"/>
<circle cx="403" cy="262.5" r="1.95" fill="#cc1040" stroke="#a00c30" stroke-width="0.6"/>
<circle cx="412.5" cy="285.5" r="1.95" fill="#cc1040" stroke="#a00c30" stroke-width="0.6"/>
<circle cx="414.6" cy="277.5" r="1.95" fill="#cc1040" stroke="#a00c30" stroke-width="0.6"/>
<circle cx="415.9" cy="267.1" r="1.95" fill="#cc1040" stroke="#a00c30" stroke-width="0.6"/>
<circle cx="424.9" cy="272.4" r="1.95" fill="#cc1040" stroke="#a00c30" stroke-width="0.6"/>
<circle cx="427.3" cy="263.4" r="1.95" fill="#cc1040" stroke="#a00c30" stroke-width="0.6"/>
<circle cx="429.3" cy="270.1" r="1.95" fill="#cc1040" stroke="#a00c30" stroke-width="0.6"/>
<circle cx="439" cy="262" r="1.95" fill="#cc1040" stroke="#a00c30" stroke-width="0.6"/>
<circle cx="441.7" cy="260" r="1.95" fill="#cc1040" stroke="#a00c30" stroke-width="0.6"/>
<circle cx="450" cy="278.7" r="1.95" fill="#cc1040" stroke="#a00c30" stroke-width="0.6"/>
<circle cx="451.7" cy="272.5" r="1.95" fill="#cc1040" stroke="#a00c30" stroke-width="0.6"/>
<circle cx="453.3" cy="265.3" r="1.95" fill="#cc1040" stroke="#a00c30" stroke-width="0.6"/>
<circle cx="462.6" cy="289" r="1.95" fill="#cc1040" stroke="#a00c30" stroke-width="0.6"/>
<circle cx="464.9" cy="275.7" r="1.95" fill="#cc1040" stroke="#a00c30" stroke-width="0.6"/>
<circle cx="466.4" cy="260.9" r="1.95" fill="#cc1040" stroke="#a00c30" stroke-width="0.6"/>
<circle cx="477.7" cy="281.4" r="1.95" fill="#cc1040" stroke="#a00c30" stroke-width="0.6"/>
<text x="363.9" y="187.4" class="tt">Reticulocytes</text>
<text transform="translate(283.2,279.2) rotate(-90)" x="0" y="0" class="at" style="font-size:8.3px;stroke-width:0.15px" textLength="42.3" lengthAdjust="spacingAndGlyphs">Absolute retics</text>
<text transform="translate(283.2,235.6) rotate(-90)" x="0" y="0" class="at" style="font-size:8.3px;stroke-width:0.15px" textLength="7.9" lengthAdjust="spacingAndGlyphs">(×</text>
<text transform="translate(283.2,226.5) rotate(-90)" x="0" y="0" class="at" style="font-size:8.3px;stroke-width:0.15px" textLength="5.9" lengthAdjust="spacingAndGlyphs">10</text>
<text transform="translate(279.8,220.4) rotate(-90)" x="0" y="0" class="at" style="font-size:5.5px;stroke-width:0.15px" textLength="2.9" lengthAdjust="spacingAndGlyphs">9</text>
<text transform="translate(283.2,217.4) rotate(-90)" x="0" y="0" class="at" style="font-size:8.3px;stroke-width:0.15px" textLength="12.1" lengthAdjust="spacingAndGlyphs">/µl)</text>
<text x="395.9" y="319.8" class="at" style="font-size:9.8px;stroke-width:0.4px" textLength="10.8" lengthAdjust="spacingAndGlyphs">Day</text>
<rect x="0.5" y="0.5" width="519" height="329" fill="none" stroke="#5a5a5a" stroke-width="1"/>
</svg>
</body></html>
